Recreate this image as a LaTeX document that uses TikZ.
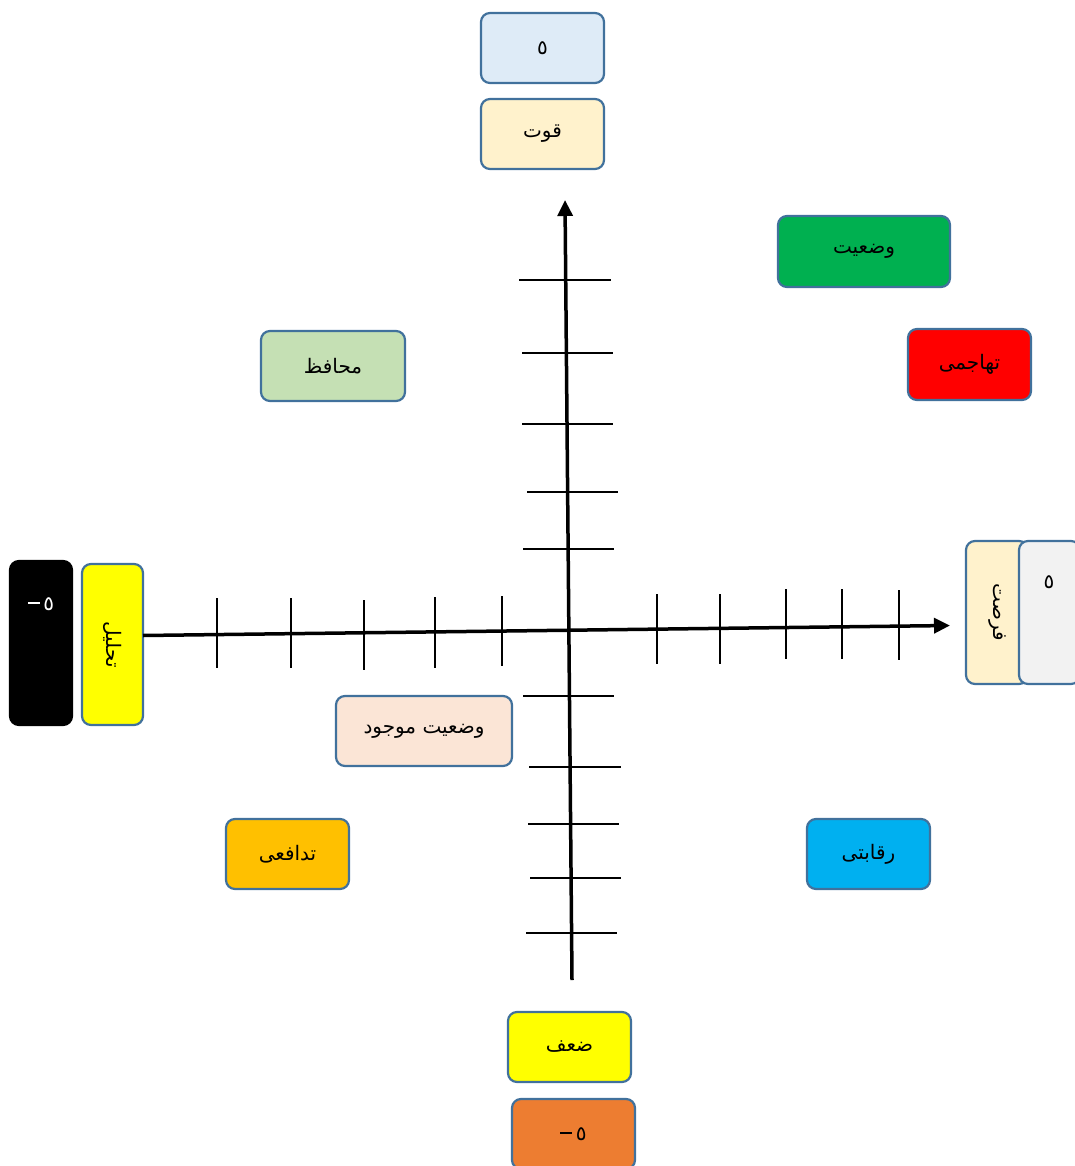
\documentclass[tikz,border=0pt]{standalone}
\usepackage{fontspec}
\newfontfamily\arabicfont[Script=Arabic]{DejaVu Sans}
\TeXXeTstate=1
\usetikzlibrary{arrows.meta}
\definecolor{bordc}{HTML}{41719C}
\definecolor{clblue}{HTML}{DEEBF7}
\definecolor{ccream}{HTML}{FFF2CC}
\definecolor{cgreen}{HTML}{00B050}
\definecolor{cred}{HTML}{FF0000}
\definecolor{clgreen}{HTML}{C5E0B4}
\definecolor{cyellow}{HTML}{FFFF00}
\definecolor{cgrey}{HTML}{F2F2F2}
\definecolor{cpeach}{HTML}{FBE5D6}
\definecolor{corange}{HTML}{FFC000}
\definecolor{ccyan}{HTML}{00B0F0}
\definecolor{corange2}{HTML}{ED7D31}
\newcommand{\negfive}{\rule[0.32em]{0.6em}{0.09em}\,٥}
\begin{document}
\begin{tikzpicture}[x=1pt,y=-1pt,
  box/.style={draw=bordc, line width=2.2pt, rounded corners=9pt, inner sep=0pt,
    font=\arabicfont\fontsize{20}{24}\selectfont},
  lbl/.style={inner sep=0pt, font=\arabicfont\fontsize{20}{24}\selectfont},
  axisline/.style={line width=3.5pt, -{Triangle[length=16pt,width=15pt]}},
  tickline/.style={line width=2pt}]
\useasboundingbox (0,0) rectangle (1074,1166);

% top
\node[box, fill=clblue, minimum width=123pt, minimum height=70pt] (top5) at (542.5,48) {٥};
\node[box, fill=ccream, minimum width=123pt, minimum height=70pt] (qovvat) at (542.5,134) {\beginR قوت\endR};
% quadrant boxes
\node[box, fill=cgreen, minimum width=172pt, minimum height=71pt] (vaziat) at (864,251.5) {\beginR وضعیت\endR};
\node[box, fill=cred, minimum width=123pt, minimum height=71pt] (tahajomi) at (969.5,364.5) {\beginR تهاجمی\endR};
\node[box, fill=clgreen, minimum width=144pt, minimum height=70pt] (mohafez) at (333,366) {\beginR محافظ\endR};
\node[box, fill=cpeach, minimum width=176pt, minimum height=70pt] (mojud) at (424,731) {\beginR وضعیت موجود\endR};
\node[box, fill=corange, minimum width=123pt, minimum height=70pt] (tadafoi) at (287.5,854) {\beginR تدافعی\endR};
\node[box, fill=ccyan, minimum width=123pt, minimum height=70pt] (reqabati) at (868.5,854) {\beginR رقابتی\endR};
% bottom
\node[box, fill=cyellow, minimum width=123pt, minimum height=70pt] (zaaf) at (569.5,1047) {\beginR ضعف\endR};
\node[box, fill=corange2, minimum width=123pt, minimum height=70pt] (bot5) at (573.5,1134) {\negfive};
% left
\node[box, draw=black, fill=black, minimum width=62pt, minimum height=164pt] (leftblack) at (41,643) {};
\node[lbl, text=white] (leftnum) at (41,604) {\color{white}\negfive};
\node[box, fill=cyellow, rotate=-90, minimum width=161pt, minimum height=61pt] (tahlil) at (112.5,644.5) {\beginR تحلیل\endR};
% right
\node[box, fill=ccream, rotate=-90, minimum width=143pt, minimum height=62pt] (forsat) at (997,612.5) {\beginR فرصت\endR};
\node[box, fill=cgrey, minimum width=61pt, minimum height=143pt] (rightbox) at (1049.5,612.5) {};
\node[lbl] (rightnum) at (1049,582) {٥};

% axes
\coordinate (vs) at (572,980);
\coordinate (ve) at (565,200);
\coordinate (hs) at (143,635.5);
\coordinate (he) at (950,625.5);
\draw[axisline] (vs) -- (ve);
\draw[axisline] (hs) -- (he);

% ticks on vertical axis
\foreach \yy/\aa/\bb in {280/519/611, 353/522/613, 424/522/613, 492/527/618, 549/523/614,
                         696/523/614, 767/529/621, 824/528/619, 878/530/621, 933/526/617}
  \draw[tickline] (\aa,\yy) -- (\bb,\yy);
% ticks on horizontal axis
\foreach \xx/\aa/\bb in {217/598/668, 291/598/668, 364/600/670, 435/597/668, 502/596/666,
                         657/594/664, 720/594/664, 786/589/659, 842/589/659, 899/590/660}
  \draw[tickline] (\xx,\aa) -- (\xx,\bb);
\end{tikzpicture}
\end{document}
